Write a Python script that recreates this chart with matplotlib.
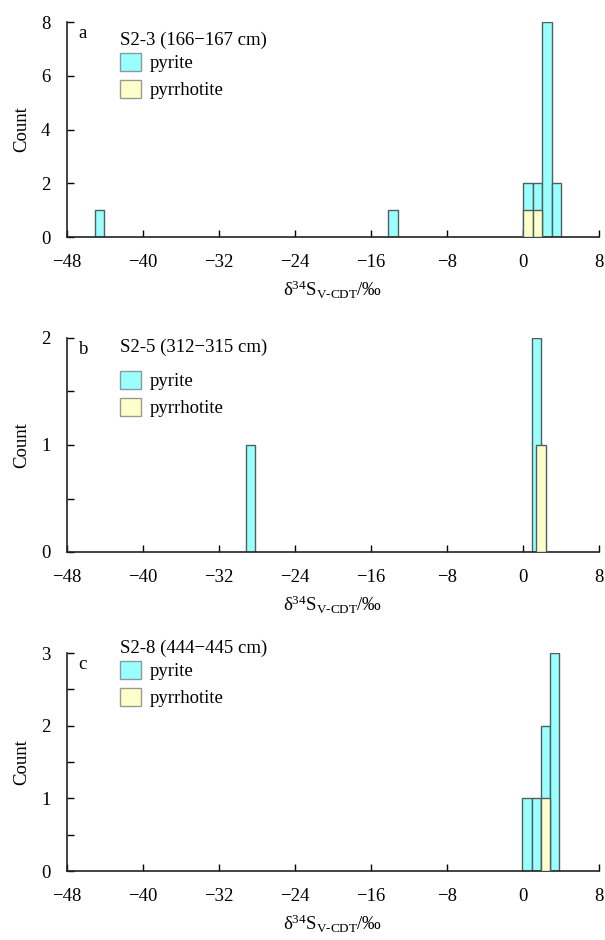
import matplotlib
matplotlib.use("Agg")
import matplotlib.pyplot as plt
from matplotlib.patches import Patch
from matplotlib.ticker import MultipleLocator

plt.rcParams['font.family'] = ['Liberation Serif', 'DejaVu Serif']
plt.rcParams['mathtext.fontset'] = 'custom'
plt.rcParams['mathtext.rm'] = 'Liberation Serif'
plt.rcParams['mathtext.it'] = 'Liberation Serif:italic'
plt.rcParams['font.size'] = 13.5

# ---- data (bin left edges, counts) ----
panel_letters = ['a', 'b', 'c']
sample_titles = ['S2-3 (166\u2212167 cm)', 'S2-5 (312\u2212315 cm)', 'S2-8 (444\u2212445 cm)']

pyrite_a_left = [-45.1, -14.2, 0.0, 1.0, 2.0, 3.0]
pyrite_a_count = [1, 1, 2, 2, 8, 2]
pyrrhotite_a_left = [0.0, 1.0]
pyrrhotite_a_count = [1, 1]

pyrite_b_left = [-29.2, 0.9]
pyrite_b_count = [1, 2]
pyrrhotite_b_left = [1.4]
pyrrhotite_b_count = [1]

pyrite_c_left = [-0.1, 0.9, 1.85, 2.8]
pyrite_c_count = [1, 1, 2, 3]
pyrrhotite_c_left = [1.85]
pyrrhotite_c_count = [1]

bin_width = 1.0
x_ticks = [-48, -40, -32, -24, -16, -8, 0, 8]
y_max = [8, 2, 3]
y_major = [2, 1, 1]
y_minor = [None, 0.5, 0.5]

pyrite_color = '#99ffff'
pyrrhotite_color = '#ffffcc'
edge_color = '#4f5f5f'

W, H = 605, 940
fig = plt.figure(figsize=(W / 100, H / 100), dpi=100)

# axes boxes in pixels: (left, top, right, bottom)
boxes = [(67, 22, 599, 237), (67, 338, 599, 552), (67, 653, 599, 871)]
# legend layout in pixels: (title y, legend-centre y)
legend_pos = [(40, 76), (347, 394), (648, 684)]
legend_x = 120

series = [
    (pyrite_a_left, pyrite_a_count, pyrrhotite_a_left, pyrrhotite_a_count),
    (pyrite_b_left, pyrite_b_count, pyrrhotite_b_left, pyrrhotite_b_count),
    (pyrite_c_left, pyrite_c_count, pyrrhotite_c_left, pyrrhotite_c_count),
]

for i, (l, t, r, b) in enumerate(boxes):
    ax = fig.add_axes([l / W, 1 - b / H, (r - l) / W, (b - t) / H])
    pl, pc, rl, rc = series[i]
    ax.bar(pl, pc, width=bin_width, align='edge', color=pyrite_color,
           edgecolor=edge_color, linewidth=1.0, zorder=2)
    ax.bar(rl, rc, width=bin_width, align='edge', color=pyrrhotite_color,
           edgecolor=edge_color, linewidth=1.0, zorder=3)
    ax.set_xlim(-48, 8)
    ax.set_ylim(0, y_max[i])
    ax.set_xticks(x_ticks)
    ax.set_xticklabels([str(v).replace('-', '\u2212') for v in x_ticks])
    ax.yaxis.set_major_locator(MultipleLocator(y_major[i]))
    if y_minor[i]:
        ax.yaxis.set_minor_locator(MultipleLocator(y_minor[i]))
    ax.tick_params(axis='both', which='both', direction='in', width=1.0)
    ax.tick_params(axis='both', which='major', length=5, pad=12, labelsize=13.5)
    ax.tick_params(axis='y', which='minor', length=5)
    for s in ['top', 'right']:
        ax.spines[s].set_visible(False)
    for s in ['left', 'bottom']:
        ax.spines[s].set_linewidth(1.2)
        ax.spines[s].set_color('#222222')
    ax.set_ylabel('Count', labelpad=8)
    ax.set_xlabel('\u03b4$^{34}$S$_{\\mathrm{V\u2010CDT}}$/\u2030', labelpad=6)
    ax.text(0.022, 0.985, panel_letters[i], transform=ax.transAxes,
            ha='left', va='top')

    ty, ly = legend_pos[i]
    fx = (legend_x - l) / (r - l)
    ax.text(fx, (b - ty) / (b - t), sample_titles[i], transform=ax.transAxes,
            ha='left', va='center', clip_on=False)
    handles = [Patch(facecolor=pyrite_color, edgecolor='#8a9a9a', label='pyrite'),
               Patch(facecolor=pyrrhotite_color, edgecolor='#9a9a8a', label='pyrrhotite')]
    ax.legend(handles=handles, loc='center left',
              bbox_to_anchor=(fx, (b - ly) / (b - t)), frameon=False,
              handlelength=1.1, handleheight=1.1, handletextpad=0.5,
              labelspacing=0.4, borderaxespad=0.0, borderpad=0.0)

fig.savefig('out.png', dpi=100)
